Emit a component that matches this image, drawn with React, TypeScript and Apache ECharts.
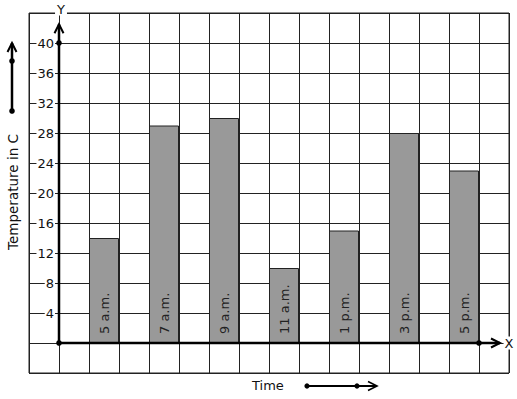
import React, { useEffect, useRef } from "react";
import * as echarts from "echarts";

const times = ["5 a.m.", "7 a.m.", "9 a.m.", "11 a.m.", "1 p.m.", "3 p.m.", "5 p.m."];
const temperatures = [14, 29, 30, 10, 15, 28, 23];
const yTickLabels = [4, 8, 12, 16, 20, 24, 28, 32, 36, 40];

const FONT = "DejaVu Sans";
const INK = "#111";
const GRID = "#222";

export default function App() {
  const ref = useRef<HTMLDivElement>(null);
  useEffect(() => {
    const chart = echarts.init(ref.current!, null, { renderer: "svg" });
    const barData = temperatures.map((v, i) => [2 * i + 1.5, v]);
    const lastBarRight = 2 * (temperatures.length - 1) + 2;
    const topTick = yTickLabels[yTickLabels.length - 1];

    const chevronUp = (x: number, y: number, w = 4.5, h = 9) => [
      [x - w, y + h],
      [x, y],
      [x + w, y + h],
    ];
    const chevronRight = (x: number, y: number, w = 4.5, h = 9) => [
      [x - h, y - w],
      [x, y],
      [x - h, y + w],
    ];

    chart.setOption({
      animation: false,
      backgroundColor: "#fff",
      grid: {
        left: 29,
        top: 13,
        width: 480,
        height: 360,
        show: true,
        borderColor: GRID,
        borderWidth: 1,
        backgroundColor: "transparent",
      },
      xAxis: {
        type: "value",
        min: -1,
        max: 15,
        interval: 1,
        axisLine: { show: false, onZero: false },
        axisTick: { show: false },
        axisLabel: { show: false },
        splitLine: { show: true, lineStyle: { color: GRID, width: 1 } },
      },
      yAxis: {
        type: "value",
        min: -4,
        max: 44,
        interval: 4,
        offset: -30,
        axisLine: { show: false, onZero: false },
        axisTick: { show: false },
        axisLabel: {
          margin: 4,
          color: INK,
          fontFamily: FONT,
          fontSize: 13,
          backgroundColor: "#fff",
          padding: [0, 1],
          formatter: (v: number) => (yTickLabels.includes(v) ? String(v) : ""),
        },
        splitLine: { show: true, lineStyle: { color: GRID, width: 1 } },
      },
      series: [
        {
          type: "bar",
          data: barData,
          barWidth: 30,
          z: 2,
          itemStyle: { color: "#999999", borderColor: GRID, borderWidth: 1 },
          label: {
            show: true,
            position: "insideBottom",
            rotate: 90,
            align: "left",
            verticalAlign: "middle",
            distance: 9,
            color: "#222",
            fontFamily: FONT,
            fontSize: 13,
            formatter: (p: any) => times[p.dataIndex],
          },
        },
        {
          type: "custom",
          z: 5,
          clip: false,
          data: [[0, 0]],
          renderItem: (_params: any, api: any) => {
            const o = api.coord([0, 0]);
            const yt = api.coord([0, 42.5]);
            const xe = api.coord([lastBarRight + 0.7, 0]);
            const d40 = api.coord([0, topTick]);
            const dEnd = api.coord([lastBarRight, 0]);
            const stroke = { stroke: "#000", lineWidth: 2.5, fill: null };
            return {
              type: "group",
              children: [
                { type: "line", shape: { x1: o[0], y1: o[1], x2: yt[0], y2: yt[1] }, style: stroke },
                { type: "line", shape: { x1: o[0], y1: o[1], x2: xe[0], y2: xe[1] }, style: stroke },
                { type: "polyline", shape: { points: chevronUp(yt[0], yt[1]) }, style: { stroke: "#000", lineWidth: 2, fill: null } },
                { type: "polyline", shape: { points: chevronRight(xe[0], xe[1]) }, style: { stroke: "#000", lineWidth: 2, fill: null } },
                { type: "circle", shape: { cx: o[0], cy: o[1], r: 2.8 }, style: { fill: "#000" } },
                { type: "circle", shape: { cx: d40[0], cy: d40[1], r: 2.8 }, style: { fill: "#000" } },
                { type: "circle", shape: { cx: dEnd[0], cy: dEnd[1], r: 2.8 }, style: { fill: "#000" } },
              ],
            };
          },
        },
      ],
      graphic: [
        {
          type: "text",
          z: 100,
          x: 61,
          y: 9,
          style: {
            text: "Y",
            fontFamily: FONT,
            fontSize: 13,
            fill: INK,
            align: "center",
            verticalAlign: "middle",
            backgroundColor: "#fff",
            padding: [0, 2],
          },
        },
        {
          type: "text",
          z: 100,
          x: 509,
          y: 343,
          style: {
            text: "X",
            fontFamily: FONT,
            fontSize: 13,
            fill: INK,
            align: "center",
            verticalAlign: "middle",
            backgroundColor: "#fff",
            padding: [0, 1],
          },
        },
        {
          type: "text",
          z: 100,
          x: 13,
          y: 192,
          rotation: Math.PI / 2,
          style: {
            text: "Temperature in C",
            fontFamily: FONT,
            fontSize: 13.5,
            fill: INK,
            align: "center",
            verticalAlign: "middle",
          },
        },
        {
          type: "text",
          z: 100,
          x: 252,
          y: 385,
          style: {
            text: "Time",
            fontFamily: FONT,
            fontSize: 13,
            fill: INK,
            align: "left",
            verticalAlign: "middle",
          },
        },
        { type: "line", z: 100, shape: { x1: 12, y1: 111, x2: 12, y2: 43 }, style: { stroke: "#000", lineWidth: 2.5 } },
        { type: "polyline", z: 100, shape: { points: chevronUp(12, 43) }, style: { stroke: "#000", lineWidth: 2, fill: null } },
        { type: "circle", z: 100, shape: { cx: 12, cy: 61, r: 2.8 }, style: { fill: "#000" } },
        { type: "circle", z: 100, shape: { cx: 12, cy: 111, r: 2.8 }, style: { fill: "#000" } },
        { type: "line", z: 100, shape: { x1: 307, y1: 386, x2: 377, y2: 386 }, style: { stroke: "#000", lineWidth: 2 } },
        { type: "polyline", z: 100, shape: { points: chevronRight(377, 386) }, style: { stroke: "#000", lineWidth: 1.6, fill: null } },
        { type: "circle", z: 100, shape: { cx: 307, cy: 386, r: 2.6 }, style: { fill: "#000" } },
        { type: "circle", z: 100, shape: { cx: 357, cy: 386, r: 2.6 }, style: { fill: "#000" } },
      ],
    });
    return () => chart.dispose();
  }, []);
  return (
    <div
      ref={ref}
      style={{ position: "absolute", left: 0, top: 0, width: 517, height: 399, background: "#fff" }}
    />
  );
}
